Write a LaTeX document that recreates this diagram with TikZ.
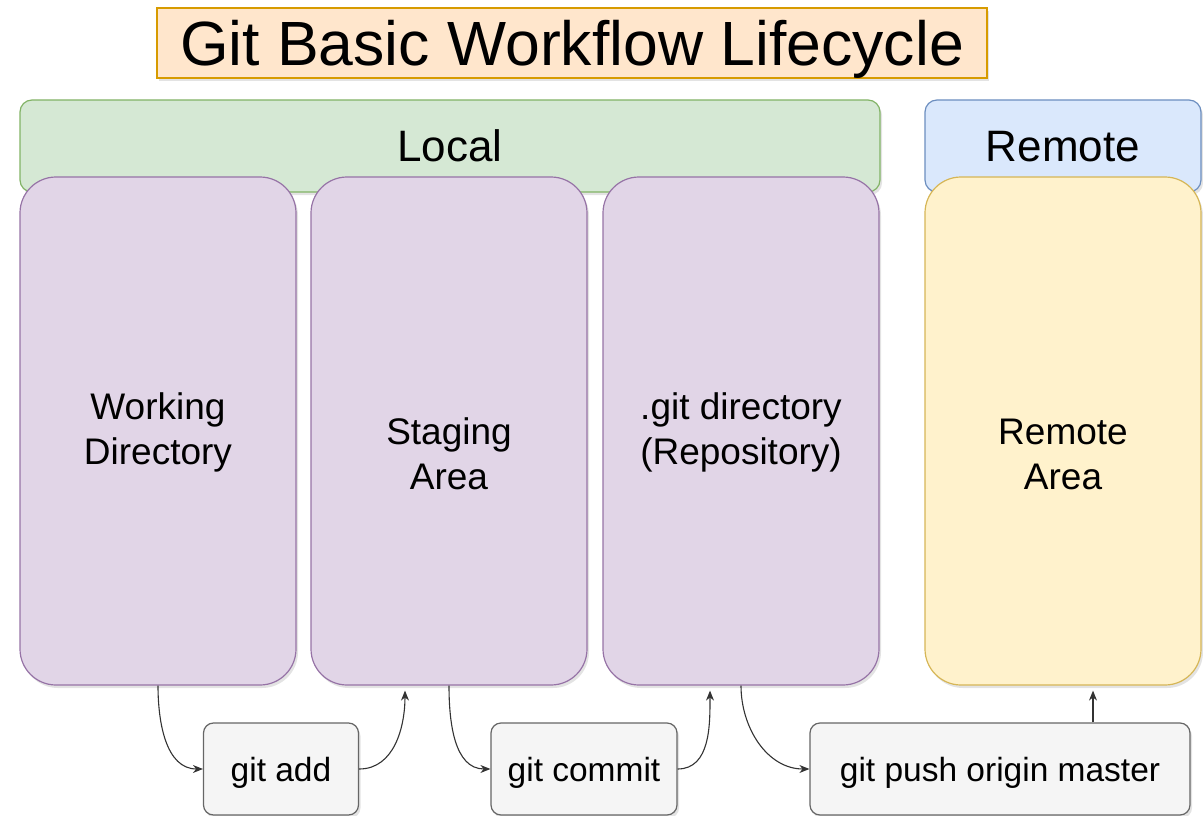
\documentclass[tikz,border=0pt]{standalone}
\usepackage{fontspec}
\setmainfont{Liberation Sans}
\usetikzlibrary{arrows.meta,shadows}
\definecolor{titlefill}{HTML}{FFE6CC}
\definecolor{titleline}{HTML}{D79B00}
\definecolor{localfill}{HTML}{D5E8D4}
\definecolor{localline}{HTML}{82B366}
\definecolor{remotefill}{HTML}{DAE8FC}
\definecolor{remoteline}{HTML}{6C8EBF}
\definecolor{areafill}{HTML}{E1D5E7}
\definecolor{arealine}{HTML}{9673A6}
\definecolor{farfill}{HTML}{FFF2CC}
\definecolor{farline}{HTML}{D6B656}
\definecolor{cmdfill}{HTML}{F5F5F5}
\definecolor{cmdline}{HTML}{666666}
\definecolor{wire}{HTML}{333333}
\newcommand{\arearad}{36pt}
\newcommand{\barrad}{12pt}

\begin{document}
\begin{tikzpicture}[x=1pt,y=1pt,
    shade/.style={drop shadow={shadow xshift=2pt, shadow yshift=-3pt, opacity=.22}},
    bar/.style={draw, line width=1.2pt, rounded corners=\barrad, minimum height=92pt,
      inner sep=0pt, text height=31.5pt, text depth=0pt, shade,
      font=\fontsize{44pt}{52pt}\selectfont},
    area/.style={draw, line width=1.2pt, rounded corners=\arearad, minimum width=276pt,
      minimum height=508pt, inner sep=0pt, shade},
    areatext/.style={align=center, inner sep=0pt, font=\fontsize{37pt}{45pt}\selectfont},
    cmd/.style={draw=cmdline, fill=cmdfill, line width=1.2pt, rounded corners=10pt,
      minimum height=92pt, inner sep=0pt, text height=24pt, text depth=0pt, shade,
      font=\fontsize{33.5pt}{40pt}\selectfont},
    wirearrow/.style={draw=wire, line width=1.1pt, -{Stealth[length=10pt,width=8pt]}}]
  \useasboundingbox (0,0) rectangle (1203,-816);

  % title
  \node (title) at (572,-43) [draw=titleline, fill=titlefill, line width=1.2pt, shade,
    minimum width=830pt, minimum height=70pt, inner sep=0pt, text height=45pt, text depth=0pt,
    font=\fontsize{62.5pt}{75pt}\selectfont] {Git Basic Workflow Lifecycle};

  % top bars
  \node (local) at (450,-146) [bar, draw=localline, fill=localfill, minimum width=860pt] {Local};
  \node (remote) at (1063,-146) [bar, draw=remoteline, fill=remotefill, minimum width=276pt] {Remote};

  % areas
  \node (wd) at (158,-431) [area, draw=arealine, fill=areafill] {};
  \node (stage) at (449,-431) [area, draw=arealine, fill=areafill] {};
  \node (gitdir) at (741,-431) [area, draw=arealine, fill=areafill] {};
  \node (rarea) at (1063,-431) [area, draw=farline, fill=farfill] {};

  \node (wdtext) at ([yshift=-1]wd.center) [areatext] {Working\\Directory};
  \node (stagetext) at ([yshift=-23]stage.center) [areatext] {Staging\\Area};
  \node (gitdirtext) at ([yshift=-1]gitdir.center) [areatext] {.git directory\\(Repository)};
  \node (rareatext) at ([yshift=-23]rarea.center) [areatext] {Remote\\Area};

  % commands
  \node (add) at (281,-769) [cmd, minimum width=155pt] {git add};
  \node (commit) at (584,-769) [cmd, minimum width=186pt] {git commit};
  \node (push) at (1000,-769) [cmd, minimum width=380pt] {git push origin master};

  \coordinate (stagein) at ([xshift=-44,yshift=-5]stage.south);
  \coordinate (gitdirin) at ([xshift=-31,yshift=-5]gitdir.south);
  \coordinate (pushout) at ([xshift=93]push.north);

  \draw[wirearrow] (wd.south) to[out=-90,in=180] (add.west);
  \draw[wirearrow] (add.east) to[out=0,in=-90] (stagein);
  \draw[wirearrow] (stage.south) to[out=-90,in=180] (commit.west);
  \draw[wirearrow] (commit.east) to[out=0,in=-90] (gitdirin);
  \draw[wirearrow] (gitdir.south) to[out=-90,in=180] (push.west);
  \draw[wirearrow, shorten >=5pt] (pushout) -- (pushout |- rarea.south);

\end{tikzpicture}
\end{document}
